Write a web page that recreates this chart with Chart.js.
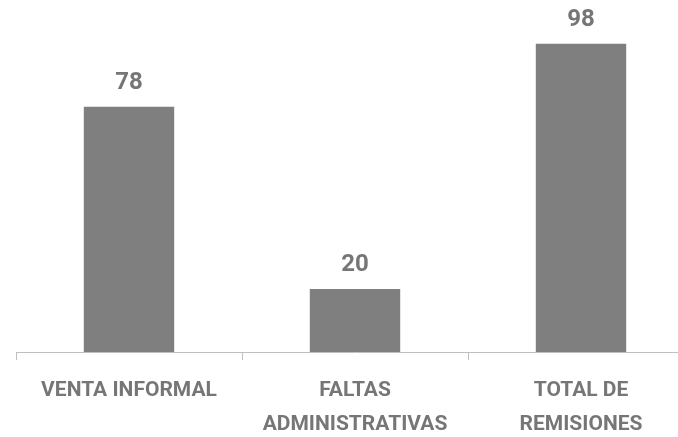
<!DOCTYPE html>
<html><head><meta charset="utf-8">
<script src="https://cdn.jsdelivr.net/npm/chart.js@4/dist/chart.umd.min.js"></script>
<style>html,body{margin:0;padding:0;overflow:hidden;background:#fff;width:678px;height:437px}
#wrap{position:absolute;left:0;top:0;width:710px;height:437px}</style>
</head><body><div id="wrap"><canvas id="c" width="710" height="437"></canvas></div>
<script>
const categories = [["VENTA INFORMAL"], ["FALTAS", "ADMINISTRATIVAS"], ["TOTAL DE", "REMISIONES"]];
const values = [78, 20, 98];

const FONT = "Roboto, 'DejaVu Sans Condensed', sans-serif";
const TXT = '#767676';

const valueLabels = {
  id: 'valueLabels',
  afterDatasetsDraw(chart) {
    const ctx = chart.ctx;
    const meta = chart.getDatasetMeta(0);
    ctx.save();
    ctx.font = 'bold 24px ' + FONT;
    ctx.fillStyle = TXT;
    ctx.textAlign = 'center';
    ctx.textBaseline = 'alphabetic';
    meta.data.forEach((bar, i) => {
      ctx.fillText(String(values[i]), bar.x, bar.y - 18);
    });
    ctx.restore();
  }
};

new Chart(document.getElementById('c'), {
  type: 'bar',
  data: {
    labels: categories,
    datasets: [{
      data: values,
      backgroundColor: '#7f7f7f',
      borderWidth: 0,
      categoryPercentage: 1,
      barPercentage: 0.4
    }]
  },
  options: {
    responsive: false,
    animation: false,
    devicePixelRatio: 1,
    layout: { padding: { left: 16, right: 16, top: 6, bottom: 0 } },
    plugins: { legend: { display: false }, tooltip: { enabled: false } },
    scales: {
      y: { display: false, min: 0, max: 110 },
      x: {
        offset: true,
        border: { display: true, color: '#bfbfbf', width: 1 },
        grid: { display: true, drawOnChartArea: false, color: '#bfbfbf', tickLength: 8, offset: true },
        ticks: { color: TXT, font: { family: FONT, size: 21, weight: 'bold', lineHeight: 1.62 }, padding: 14, maxRotation: 0, autoSkip: false },
        afterFit(scale) { scale.height = 85; }
      }
    }
  },
  plugins: [valueLabels]
});
</script></body></html>
